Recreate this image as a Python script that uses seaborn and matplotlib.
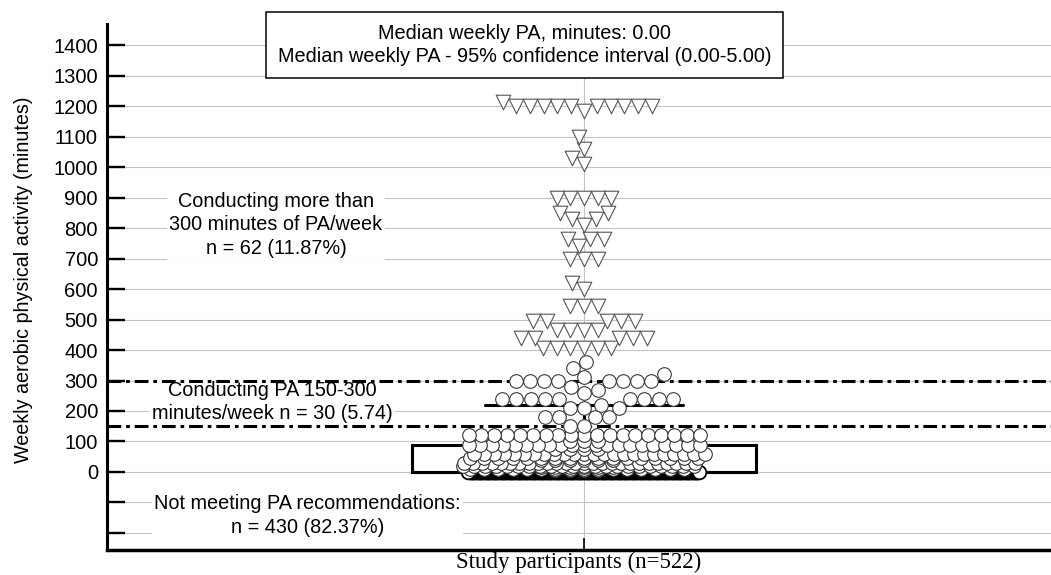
import matplotlib.pyplot as plt
import numpy as np
import pandas as pd
import seaborn as sns

sns.set_theme(style="ticks")
plt.rcParams["font.family"] = ["Liberation Sans", "DejaVu Sans"]
plt.rcParams["text.color"] = "black"
plt.rcParams["axes.labelcolor"] = "black"

# weekly aerobic PA (minutes) and how many participants reported each value
row_minutes = [0, 5, 10, 15, 20, 30, 40, 45, 60, 75, 90, 100, 120]
row_count = [262, 4, 16, 6, 22, 26, 6, 17, 24, 4, 21, 3, 19]

mid_minutes = [150, 180, 210, 220, 240, 260, 270, 280, 300, 310, 320, 340, 360]
mid_count = [2, 4, 3, 1, 9, 1, 1, 1, 8, 1, 1, 1, 1]

high_minutes = [405, 440, 465, 495, 545, 600, 620, 700, 740, 765, 810,
                830, 850, 900, 1010, 1030, 1060, 1100, 1185, 1200, 1215]
high_count = [6, 5, 4, 5, 3, 1, 1, 3, 1, 3, 1,
              2, 2, 5, 1, 1, 1, 1, 1, 10, 1]

group_label = "Study participants (n=522)"
guide_levels = [150, 300]
y_ticks = [-200, -100, 0, 100, 200, 300, 400, 500, 600, 700,
           800, 900, 1000, 1100, 1200, 1300, 1400]
y_tick_labels = ["", "", "0", "100", "200", "300", "400", "500", "600", "700",
                 "800", "900", "1000", "1100", "1200", "1300", "1400"]

summary_text = ("Median weekly PA, minutes: 0.00\n"
                "Median weekly PA - 95% confidence interval (0.00-5.00)")
over_text = "Conducting more than\n300 minutes of PA/week\nn = 62 (11.87%)"
between_text = "Conducting PA 150-300\nminutes/week n = 30 (5.74)"
under_text = "Not meeting PA recommendations:\nn = 430 (82.37%)"

minutes = np.concatenate([
    np.repeat(row_minutes, row_count),
    np.repeat(mid_minutes, mid_count),
    np.repeat(high_minutes, high_count),
])
df = pd.DataFrame({"minutes": minutes, "group": group_label})

q1, q3 = df["minutes"].quantile([0.25, 0.75])
far_out = q3 + 3 * (q3 - q1)

mid = df[(df["minutes"] >= 150) & (df["minutes"] <= far_out)]
high = df[df["minutes"] > far_out]

circle_size, triangle_size = 9.8, 10.5
marker_lw = 0.8
layout_lw = 0.1        # thin edge while the swarm is laid out
row_span_px = 220      # MedCalc squeezes each crowded row into this width
natural_px = 13.6

fig, ax = plt.subplots(figsize=(10.51, 5.75), dpi=100)
fig.subplots_adjust(left=0.1018, right=1.0, bottom=0.0435, top=0.958)

sns.boxplot(data=df, x="group", y="minutes", ax=ax, width=0.36, whis=1.5,
            showfliers=False, color="white", linecolor="black", linewidth=2.2)
# MedCalc-style caps are a bit wider than seaborn's default
for cap in ax.containers[0].caps:
    xs = np.asarray(cap.get_xdata(), dtype=float)
    centre = xs.mean()
    cap.set_xdata(centre + (xs - centre) * 1.15)

# swarms are laid out with a smaller collision size, then drawn full size,
# which gives the overlapping dot rows of the original figure
layers = []
for value, count in zip(row_minutes, row_count):
    row = df[df["minutes"] == value]
    step = min(natural_px, row_span_px / max(count - 1, 1))
    layout_size = max(step * 72 / fig.dpi - layout_lw, 0.02)
    edge = "black" if value == 0 else "#333333"
    sns.swarmplot(data=row, x="group", y="minutes", ax=ax, size=layout_size,
                  color="white", edgecolor=edge, linewidth=layout_lw,
                  zorder=3)
    layers.append((ax.collections[-1], circle_size,
                   1.3 if value == 0 else marker_lw))

sns.swarmplot(data=mid, x="group", y="minutes", ax=ax, size=9.7,
              color="white", edgecolor="#3a3a3a", linewidth=layout_lw,
              zorder=3)
layers.append((ax.collections[-1], circle_size, marker_lw))
sns.swarmplot(data=high, x="group", y="minutes", ax=ax, marker="v", size=9.3,
              color="white", edgecolor="#555555", linewidth=layout_lw,
              zorder=3)
layers.append((ax.collections[-1], triangle_size, marker_lw))

for level in guide_levels:
    ax.axhline(level, color="black", linewidth=2.2,
               dashes=(4.5, 1.6, 1.2, 1.6), zorder=2.5)

ax.set_xlim(-0.5, 0.4895)
ax.set_ylim(-256, 1469)
ax.set_yticks(y_ticks)
ax.set_yticklabels(y_tick_labels)
ax.grid(True, color="#c4c4c4", linewidth=0.8)
ax.set_axisbelow(True)

sns.despine(ax=ax)
ax.spines["left"].set_linewidth(2.2)
ax.spines["bottom"].set_linewidth(2.5)
ax.spines["left"].set_color("black")
ax.spines["bottom"].set_color("black")
ax.tick_params(axis="y", direction="in", length=13, width=1.7,
               labelsize=14.5, pad=6.5, colors="black")
ax.tick_params(axis="x", direction="in", length=9, width=1.2,
               labelbottom=False, colors="black")

ax.set_ylabel("Weekly aerobic physical activity (minutes)", fontsize=14.2)
ax.yaxis.set_label_coords(-0.0784, 0.514)
ax.set_xlabel(group_label, fontsize=16.5, family="Liberation Serif", labelpad=1)

plain_box = dict(boxstyle="square,pad=0.12", fc="white", ec="none")
ax.text(-0.3229, 811, over_text, ha="center", va="center", fontsize=14.3,
        linespacing=1.3, bbox=plain_box, zorder=2)
ax.text(-0.327, 229, between_text, ha="center", va="center", fontsize=14.3,
        linespacing=1.3, bbox=plain_box, zorder=2)
ax.text(-0.2898, -143, under_text, ha="center", va="center", fontsize=14.3,
        linespacing=1.3, bbox=plain_box, zorder=2)
ax.text(-0.0624, 1401, summary_text, ha="center", va="center", fontsize=14.3,
        linespacing=1.3, zorder=4,
        bbox=dict(boxstyle="square,pad=0.58", fc="white", ec="black", lw=1.1))

# run the swarm layout once, then freeze it and enlarge the markers
fig.canvas.draw()
for points, size, lw in layers:
    points.__dict__.pop("draw", None)
    points.set_sizes([size ** 2])
    points.set_linewidth(lw)

fig.savefig("out.png", dpi=100)
